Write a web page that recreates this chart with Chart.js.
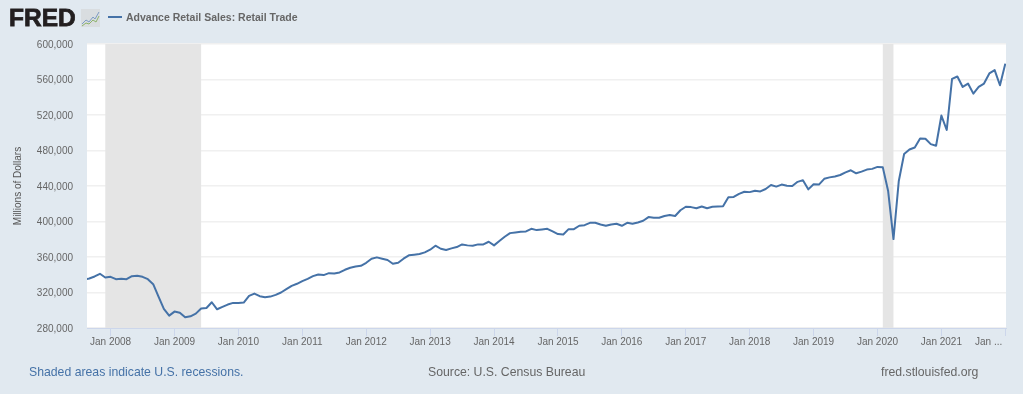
<!DOCTYPE html>
<html>
<head>
<meta charset="utf-8">
<title>Advance Retail Sales: Retail Trade</title>
<script src="https://cdn.jsdelivr.net/npm/chart.js@4"></script>
<style>
html, body { margin: 0; padding: 0; background: #e1e9f0; overflow: hidden; }
#wrap { position: relative; width: 1023px; height: 394px; font-family: "Liberation Sans", Arial, sans-serif; }
#salesChart { position: absolute; left: 0; top: 0; }
.txt { position: absolute; white-space: nowrap; }
#logo { left: 9px; top: 4px; font-size: 24.5px; font-weight: bold; color: #231f20; -webkit-text-stroke: 0.8px #231f20; }
#logoIcon { position: absolute; left: 81px; top: 9px; }
#legendLine { position: absolute; left: 108px; top: 16px; width: 14px; height: 2px; background: #4572a7; }
#legendText { left: 126px; top: 11px; font-size: 10.5px; font-weight: bold; color: #666; }
#recessionNote { left: 29px; top: 365px; font-size: 12.25px; color: #4572a7; }
#source { left: 428px; top: 365px; font-size: 12.25px; color: #666; }
#fredLink { left: 881px; top: 365px; font-size: 12.25px; color: #666; }
</style>
</head>
<body>
<div id="wrap">
    <canvas id="salesChart" width="1023" height="394"></canvas>
    <div class="txt" id="logo">FRED</div>
    <svg id="logoIcon" width="19" height="18" viewBox="0 0 19 18">
        <rect width="19" height="18" fill="#d9dde0"/>
        <polyline points="1,15 5,11 8,13 12,8 14,10 18,3" fill="none" stroke="#7d9cc4" stroke-width="1"/>
        <polyline points="1,17 5,14 8,15 12,11 15,13 18,7" fill="none" stroke="#8db36b" stroke-width="1"/>
    </svg>
    <div id="legendLine"></div>
    <div class="txt" id="legendText">Advance Retail Sales: Retail Trade</div>
    <div class="txt" id="recessionNote">Shaded areas indicate U.S. recessions.</div>
    <div class="txt" id="source">Source: U.S. Census Bureau</div>
    <div class="txt" id="fredLink">fred.stlouisfed.org</div>
</div>

<script>
// --- DATA ---
// monthly values, first one is Aug 2007 (index 0), last is Jan 2022
const retailSales = [
    334700, 335800, 338060, 341100, 336900,
    337700, 335000, 335400, 335000, 338400, 338800, 337700, 335000, 329400, 315400, 301500, 294000,
    298500, 297300, 292100, 293200, 296200, 301900, 302600, 309000, 301100, 303800, 306400, 308300,
    308300, 308700, 316200, 318800, 315800, 314700, 315400, 317300, 320000, 323700, 327500, 329800,
    332800, 335400, 338400, 340300, 339600, 341800, 341500, 342600, 345600, 347900, 349400, 350100,
    353500, 358100, 359600, 358100, 356600, 352400, 353500, 358100, 361900, 362600, 363400, 365200,
    368200, 372700, 369300, 367900, 369700, 371200, 374200, 373100, 372700, 374200, 374200, 377200,
    373100, 378000, 382800, 386900, 387700, 388400, 388800, 391800, 390300, 391000, 391800, 388800,
    385800, 385400, 391400, 391400, 395200, 395900, 398500, 398500, 396700, 395200, 396700, 397400,
    395200, 398500, 397400, 398900, 400800, 405000, 404200, 404200, 406200, 407300, 406200, 412700,
    416600, 416200, 415000, 416900, 415000, 416600, 416900, 417300, 427300, 427700, 431200, 433500,
    433100, 434700, 433900, 436600, 441200, 439300, 441600, 440400, 440000, 444700, 446600, 436200,
    442000, 441600, 448100, 449700, 450800, 452400, 455400, 457700, 454300, 456200, 458500, 459300,
    461500, 461000, 434300, 380200, 445700, 476000, 481100, 483400, 493600, 493300, 487200, 485300,
    519400, 503100, 560700, 563400, 551600, 555400, 544100, 551600, 555400, 566800, 570600, 553500,
    577800
];

// month index of each x tick and its label
const xTickMonths = [5, 17, 29, 41, 53, 65, 77, 89, 101, 113, 125, 137, 149, 161, 173];
const xTickLabels = ['Jan 2008', 'Jan 2009', 'Jan 2010', 'Jan 2011', 'Jan 2012', 'Jan 2013', 'Jan 2014', 'Jan 2015',
    'Jan 2016', 'Jan 2017', 'Jan 2018', 'Jan 2019', 'Jan 2020', 'Jan 2021', 'Jan ...\u00A0\u00A0\u00A0\u00A0\u00A0\u00A0\u00A0\u00A0\u00A0\u00A0\u00A0\u00A0'];

// recessions as [start month index, end month index]
const recessions = [[4, 22], [150, 152]];

const TEXT_FONT = '"Liberation Sans", Arial, sans-serif';

// --- PLUGIN: white plot area and grey recession bands ---
const plotBackground = {
    id: 'plotBackground',
    beforeDraw(chart) {
        const { ctx, chartArea: a } = chart;
        ctx.save();
        ctx.fillStyle = '#ffffff';
        ctx.fillRect(a.left, a.top, a.right - a.left, a.bottom - a.top);
        ctx.restore();
    },
    beforeDatasetsDraw(chart) {
        const { ctx, chartArea: a, scales } = chart;
        ctx.save();
        ctx.fillStyle = '#e5e5e5';
        recessions.forEach(([from, to]) => {
            const x1 = scales.x.getPixelForValue(from);
            const x2 = scales.x.getPixelForValue(to);
            ctx.fillRect(x1, a.top, x2 - x1, a.bottom - a.top);
        });
        ctx.restore();
    }
};

new Chart(document.getElementById('salesChart'), {
    type: 'line',
    plugins: [plotBackground],
    data: {
        datasets: [{
            label: 'Advance Retail Sales: Retail Trade',
            data: retailSales.map((v, i) => ({ x: i, y: v })),
            borderColor: '#4572a7',
            borderWidth: 2,
            borderJoinStyle: 'round',
            pointRadius: 0,
            tension: 0
        }]
    },
    options: {
        responsive: false,
        animation: false,
        layout: { padding: { left: 12, right: 17, top: 44, bottom: 0 } },
        plugins: { legend: { display: false }, tooltip: { enabled: false } },
        scales: {
            x: {
                type: 'linear',
                min: 0.57,
                max: 173.13,
                afterBuildTicks: (scale) => { scale.ticks = xTickMonths.map(value => ({ value })); },
                afterFit: (scale) => {
                    scale.height = 66;
                    // last label must not push the plot area in
                    scale.paddingRight = 0;
                    scale.paddingLeft = 0;
                },
                border: { color: '#ccd6eb' },
                grid: { drawOnChartArea: false, color: '#ccd6eb', tickLength: 8 },
                ticks: {
                    autoSkip: false,
                    maxRotation: 0,
                    padding: 0,
                    color: '#666666',
                    font: { family: TEXT_FONT, size: 10 },
                    callback: (value) => xTickLabels[xTickMonths.indexOf(value)]
                }
            },
            y: {
                min: 280000,
                max: 600000,
                afterFit: (scale) => { scale.width = 75; },
                border: { display: false },
                grid: { color: '#f0f0f0', lineWidth: 1.5, drawTicks: false },
                title: {
                    display: true,
                    text: 'Millions of Dollars',
                    color: '#555555',
                    font: { family: TEXT_FONT, size: 10 },
                    padding: 0
                },
                ticks: {
                    stepSize: 40000,
                    padding: 14,
                    labelOffset: 1,
                    color: '#666666',
                    font: { family: TEXT_FONT, size: 10 },
                    callback: (value) => value.toLocaleString('en-US')
                }
            }
        }
    }
});
</script>
</body>
</html>
